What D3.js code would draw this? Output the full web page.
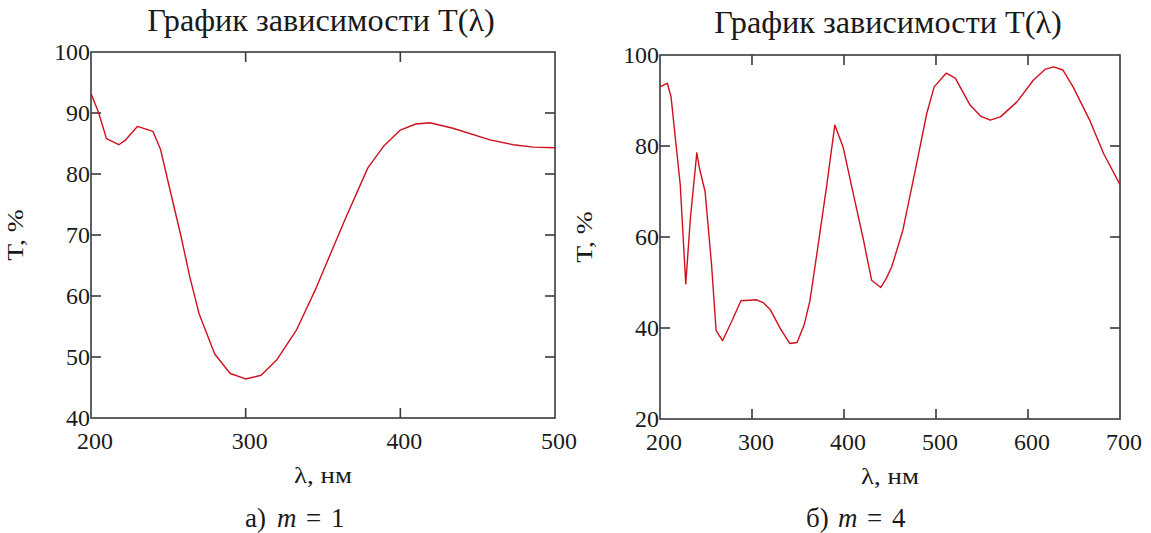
<!DOCTYPE html>
<html>
<head>
<meta charset="utf-8">
<script src="https://cdn.jsdelivr.net/npm/d3@7"></script>
<style>
  body { margin: 0; background: #fff; }
  svg { display: block; }
</style>
</head>
<body>
<svg id="chart" width="1151" height="533"></svg>
<script>
// ---- data: graph a) m = 1 ----
const lambdaA = [200, 205, 210, 218, 222, 230, 240, 245, 251, 258, 264, 270, 280, 290, 300, 310, 320, 333, 345, 355, 365, 379, 389, 400, 410, 419, 434, 458, 473, 486, 500];
const transA  = [93.2, 90.0, 85.8, 84.8, 85.5, 87.8, 87.0, 84.0, 77.5, 70.0, 63.0, 57.0, 50.5, 47.3, 46.4, 47.0, 49.5, 54.5, 61.0, 67.0, 73.0, 81.0, 84.5, 87.2, 88.2, 88.4, 87.5, 85.6, 84.8, 84.4, 84.3];

// ---- data: graph б) m = 4 ----
const lambdaB = [200, 208, 212, 222, 228, 233, 240, 243, 249, 256, 261, 268, 278, 288, 305, 312, 320, 331, 341, 349, 357, 363, 371, 381, 390, 399, 410, 421, 430, 440, 446, 452, 464, 479, 490, 498, 511, 521, 537, 549, 559, 570, 588, 606, 619, 628, 638, 649, 667, 682, 700];
const transB  = [93.0, 93.8, 90.8, 71.5, 49.7, 64.0, 78.5, 75.0, 70.0, 54.0, 39.4, 37.2, 41.5, 46.0, 46.2, 45.6, 44.0, 39.8, 36.6, 36.8, 40.9, 46.0, 57.0, 71.0, 84.6, 79.8, 69.6, 59.5, 50.5, 48.9, 50.9, 53.5, 61.5, 76.2, 87.2, 93.0, 96.0, 94.9, 89.0, 86.5, 85.7, 86.4, 89.7, 94.5, 96.9, 97.4, 96.7, 93.0, 85.7, 78.4, 71.5];

// ---- tick labels ----
const xTicksA = [200, 300, 400, 500];
const yTicksA = [40, 50, 60, 70, 80, 90, 100];
const xTicksB = [200, 300, 400, 500, 600, 700];
const yTicksB = [20, 40, 60, 80, 100];

const titleText = "График зависимости T(λ)";
const yLabel = "T, %";
const xLabel = "λ, нм";

const serif = "'Liberation Serif', 'DejaVu Serif', 'Noto Serif', 'Times New Roman', serif";
const textColor = "#1a1a1a";

const svg = d3.select("#chart");

// text that is a little wider than the font draws it (the source picture is stretched)
function wideText(parent, x, y, sx, size, rot) {
    return parent.append("text")
        .attr("transform", "translate(" + x + "," + y + ")" + (rot ? " rotate(" + rot + ")" : "") + " scale(" + sx + ",1)")
        .attr("font-size", size);
}

function drawPanel(opt) {
    const x = d3.scaleLinear().domain(opt.xDomain).range([opt.left, opt.right]);
    const y = d3.scaleLinear().domain(opt.yDomain).range([opt.bottom, opt.top]);
    const g = svg.append("g")
        .attr("font-family", serif)
        .attr("fill", textColor);
    const tick = 10;
    const axisColor = "#3a3a3a";

    // frame
    g.append("rect")
        .attr("x", opt.left).attr("y", opt.top)
        .attr("width", opt.right - opt.left).attr("height", opt.bottom - opt.top)
        .attr("fill", "none").attr("stroke", axisColor).attr("stroke-width", 1.6);

    // inner ticks, all four sides (skip the corners)
    const xIn = opt.xTicks.slice(1, -1);
    const yIn = opt.yTicks.slice(1, -1);
    xIn.forEach(function(v) {
        g.append("line").attr("x1", x(v)).attr("x2", x(v)).attr("y1", opt.bottom).attr("y2", opt.bottom - tick)
            .attr("stroke", axisColor).attr("stroke-width", 1.6);
        g.append("line").attr("x1", x(v)).attr("x2", x(v)).attr("y1", opt.top).attr("y2", opt.top + tick)
            .attr("stroke", axisColor).attr("stroke-width", 1.6);
    });
    yIn.forEach(function(v) {
        g.append("line").attr("y1", y(v)).attr("y2", y(v)).attr("x1", opt.left).attr("x2", opt.left + tick)
            .attr("stroke", axisColor).attr("stroke-width", 1.6);
        g.append("line").attr("y1", y(v)).attr("y2", y(v)).attr("x1", opt.right).attr("x2", opt.right - tick)
            .attr("stroke", axisColor).attr("stroke-width", 1.6);
    });

    // tick labels
    opt.xTicks.forEach(function(d) {
        wideText(g, x(d) + 4, opt.bottom + 31, 1.04, 23)
            .attr("text-anchor", "middle").text(d);
    });
    opt.yTicks.forEach(function(d) {
        wideText(g, opt.left - 1, y(d) + 8, 1.04, 23)
            .attr("text-anchor", "end").text(d);
    });

    // curve
    const line = d3.line()
        .x(function(d) { return x(d[0]); })
        .y(function(d) { return y(d[1]); });
    g.append("path")
        .datum(d3.zip(opt.xs, opt.ys))
        .attr("d", line)
        .attr("fill", "none")
        .attr("stroke", "#d0101c")
        .attr("stroke-width", 1.4)
        .attr("stroke-linejoin", "round");

    // title, axis labels
    const cx = (opt.left + opt.right) / 2;
    wideText(g, opt.titleX, opt.titleY, 1.04, 31)
        .attr("text-anchor", "middle").text(titleText);
    wideText(g, cx, opt.bottom + 65, 1.12, 24)
        .attr("text-anchor", "middle").text(xLabel);
    wideText(g, opt.left - 68, (opt.top + opt.bottom) / 2, 1.15, 24, -90)
        .attr("text-anchor", "middle").text(yLabel);

    // caption: "а)  m = 1"
    const capY = 527;
    g.append("text").attr("x", opt.capX).attr("y", capY).attr("font-size", 27).text(opt.capPrefix);
    g.append("text").attr("x", opt.capX + 32).attr("y", capY).attr("font-size", 27)
        .attr("font-style", "italic").text("m");
    g.append("text").attr("x", opt.capX + 61).attr("y", capY).attr("font-size", 27).text("=");
    g.append("text").attr("x", opt.capX + 86).attr("y", capY).attr("font-size", 27).text(opt.capM);
}

drawPanel({
    left: 91, right: 555, top: 52, bottom: 418,
    xDomain: [200, 500], yDomain: [40, 100],
    xTicks: xTicksA, yTicks: yTicksA,
    xs: lambdaA, ys: transA,
    titleX: 321, titleY: 31, capX: 245, capPrefix: "а)", capM: 1
});

drawPanel({
    left: 660, right: 1120, top: 55, bottom: 419,
    xDomain: [200, 700], yDomain: [20, 100],
    xTicks: xTicksB, yTicks: yTicksB,
    xs: lambdaB, ys: transB,
    titleX: 888, titleY: 33, capX: 806, capPrefix: "б)", capM: 4
});
</script>
</body>
</html>
